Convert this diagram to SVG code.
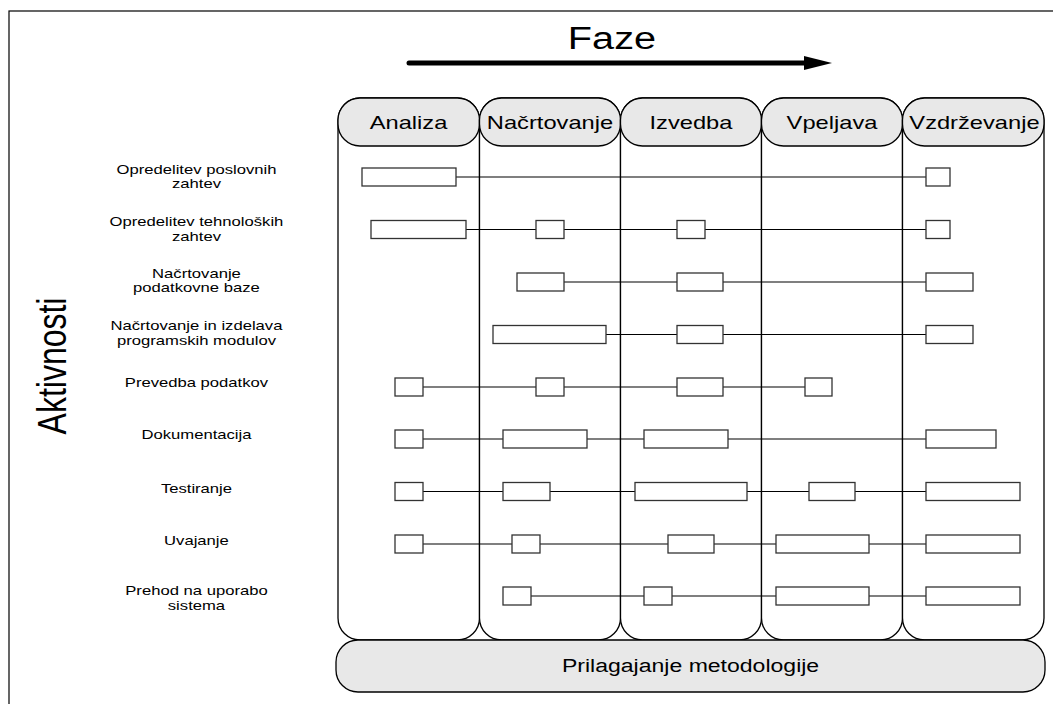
<svg xmlns="http://www.w3.org/2000/svg" width="1053" height="704" viewBox="0 0 1053 704">
  <style>
    text { font-family: "Liberation Sans", Arial, sans-serif; fill: #000; }
    .frame { fill: none; stroke: #000; stroke-width: 1.2; }
    .col { fill: #fff; stroke: #000; stroke-width: 1.3; }
    .head { fill: #e8e8e8; stroke: #000; stroke-width: 1.3; }
    .task { fill: #fff; stroke: #333; stroke-width: 1.3; }
    .link { stroke: #000; stroke-width: 1.1; fill: none; }
    .lbl { font-size: 13px; text-anchor: middle; }
    .hdr { font-size: 18.5px; text-anchor: middle; }
  </style>

  <!-- outer frame -->
  <rect class="frame" x="9" y="11" width="1100" height="760"/>

  <!-- phase arrow -->
  <g id="phase-arrow">
    <line x1="409" y1="63" x2="808" y2="63" stroke="#000" stroke-width="5" stroke-linecap="round"/>
    <polygon points="804,56 832,63 804,70" fill="#000"/>
    <text transform="scale(1.28,1)" x="478.1" y="49" font-size="31" text-anchor="middle">Faze</text>
  </g>

  <!-- activity axis title -->
  <text id="axis-title" transform="translate(66,366) rotate(-90) scale(1,1.28)" x="0" y="0" font-size="32" text-anchor="middle">Aktivnosti</text>

  <!-- phase columns -->
  <g id="col-analiza">
    <rect class="col" x="338" y="98" width="141.5" height="542" rx="22" ry="22"/>
    <rect class="head" x="338" y="98" width="141.5" height="48" rx="22" ry="22"/>
    <text class="hdr" transform="scale(1.28,1)" x="319.2" y="129">Analiza</text>
  </g>
  <g id="col-nacrtovanje">
    <rect class="col" x="479.5" y="98" width="141" height="542" rx="22" ry="22"/>
    <rect class="head" x="479.5" y="98" width="141" height="48" rx="22" ry="22"/>
    <text class="hdr" transform="scale(1.28,1)" x="429.7" y="129">Načrtovanje</text>
  </g>
  <g id="col-izvedba">
    <rect class="col" x="620.5" y="98" width="141" height="542" rx="22" ry="22"/>
    <rect class="head" x="620.5" y="98" width="141" height="48" rx="22" ry="22"/>
    <text class="hdr" transform="scale(1.28,1)" x="539.8" y="129">Izvedba</text>
  </g>
  <g id="col-vpeljava">
    <rect class="col" x="761.5" y="98" width="141" height="542" rx="22" ry="22"/>
    <rect class="head" x="761.5" y="98" width="141" height="48" rx="22" ry="22"/>
    <text class="hdr" transform="scale(1.28,1)" x="650" y="129">Vpeljava</text>
  </g>
  <g id="col-vzdrzevanje">
    <rect class="col" x="902.5" y="98" width="141.5" height="542" rx="22" ry="22"/>
    <rect class="head" x="902.5" y="98" width="141.5" height="48" rx="22" ry="22"/>
    <text class="hdr" transform="scale(1.28,1)" x="761.3" y="129">Vzdrževanje</text>
  </g>

  <!-- methodology tailoring bar -->
  <g id="bar-prilagajanje">
    <rect class="head" x="336" y="640" width="709" height="52" rx="22" ry="22"/>
    <text transform="scale(1.28,1)" x="539.5" y="672" font-size="18" text-anchor="middle">Prilagajanje metodologije</text>
  </g>

  <!-- activity labels -->
  <g id="labels" transform="scale(1.28,1)">
    <text class="lbl" x="153.5" y="174.5">Opredelitev poslovnih</text>
    <text class="lbl" x="153.5" y="188.5">zahtev</text>
    <text class="lbl" x="153.5" y="226.5">Opredelitev tehnoloških</text>
    <text class="lbl" x="153.5" y="241">zahtev</text>
    <text class="lbl" x="153.5" y="278.5">Načrtovanje</text>
    <text class="lbl" x="153.5" y="292.5">podatkovne baze</text>
    <text class="lbl" x="153.5" y="330.5">Načrtovanje in izdelava</text>
    <text class="lbl" x="153.5" y="345">programskih modulov</text>
    <text class="lbl" x="153.5" y="387.5">Prevedba podatkov</text>
    <text class="lbl" x="153.5" y="439.5">Dokumentacija</text>
    <text class="lbl" x="153.5" y="493">Testiranje</text>
    <text class="lbl" x="153.5" y="545">Uvajanje</text>
    <text class="lbl" x="153.5" y="595">Prehod na uporabo</text>
    <text class="lbl" x="153.5" y="610">sistema</text>
  </g>

  <!-- timeline connectors per activity -->
  <g id="connectors">
    <line class="link" x1="456" y1="177" x2="926" y2="177"/>
    <line class="link" x1="466" y1="229.5" x2="926" y2="229.5"/>
    <line class="link" x1="564" y1="282" x2="926" y2="282"/>
    <line class="link" x1="606" y1="334.5" x2="926" y2="334.5"/>
    <line class="link" x1="423" y1="387" x2="805" y2="387"/>
    <line class="link" x1="423" y1="439" x2="926" y2="439"/>
    <line class="link" x1="423" y1="491.5" x2="926" y2="491.5"/>
    <line class="link" x1="423" y1="544" x2="926" y2="544"/>
    <line class="link" x1="531" y1="596" x2="926" y2="596"/>
  </g>

  <!-- activity blocks -->
  <g id="row-poslovne">
    <rect class="task" x="362" y="168" width="94" height="18"/>
    <rect class="task" x="926" y="168" width="24" height="18"/>
  </g>
  <g id="row-tehnoloske">
    <rect class="task" x="371" y="220.5" width="95" height="18"/>
    <rect class="task" x="536" y="220.5" width="28" height="18"/>
    <rect class="task" x="677" y="220.5" width="28" height="18"/>
    <rect class="task" x="926" y="220.5" width="24" height="18"/>
  </g>
  <g id="row-baza">
    <rect class="task" x="517" y="273" width="47" height="18"/>
    <rect class="task" x="677" y="273" width="46" height="18"/>
    <rect class="task" x="926" y="273" width="47" height="18"/>
  </g>
  <g id="row-moduli">
    <rect class="task" x="493" y="325.5" width="113" height="18"/>
    <rect class="task" x="677" y="325.5" width="46" height="18"/>
    <rect class="task" x="926" y="325.5" width="47" height="18"/>
  </g>
  <g id="row-prevedba">
    <rect class="task" x="395" y="378" width="28" height="18"/>
    <rect class="task" x="536" y="378" width="28" height="18"/>
    <rect class="task" x="677" y="378" width="46" height="18"/>
    <rect class="task" x="805" y="378" width="27" height="18"/>
  </g>
  <g id="row-dokumentacija">
    <rect class="task" x="395" y="430" width="28" height="18"/>
    <rect class="task" x="503" y="430" width="84" height="18"/>
    <rect class="task" x="644" y="430" width="84" height="18"/>
    <rect class="task" x="926" y="430" width="70" height="18"/>
  </g>
  <g id="row-testiranje">
    <rect class="task" x="395" y="482.5" width="28" height="18"/>
    <rect class="task" x="503" y="482.5" width="47" height="18"/>
    <rect class="task" x="635" y="482.5" width="112" height="18"/>
    <rect class="task" x="809" y="482.5" width="46" height="18"/>
    <rect class="task" x="926" y="482.5" width="94" height="18"/>
  </g>
  <g id="row-uvajanje">
    <rect class="task" x="395" y="535" width="28" height="18"/>
    <rect class="task" x="512" y="535" width="28" height="18"/>
    <rect class="task" x="668" y="535" width="46" height="18"/>
    <rect class="task" x="776" y="535" width="93" height="18"/>
    <rect class="task" x="926" y="535" width="94" height="18"/>
  </g>
  <g id="row-prehod">
    <rect class="task" x="503" y="587" width="28" height="18"/>
    <rect class="task" x="644" y="587" width="28" height="18"/>
    <rect class="task" x="776" y="587" width="93" height="18"/>
    <rect class="task" x="926" y="587" width="94" height="18"/>
  </g>
</svg>
